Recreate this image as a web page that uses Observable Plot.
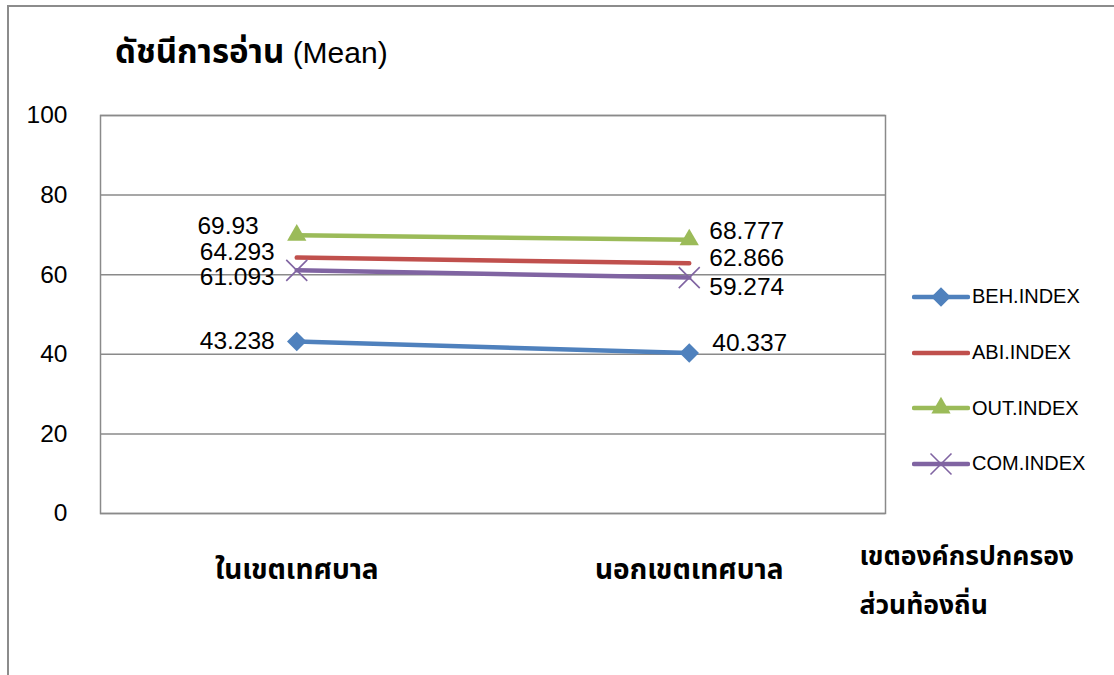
<!DOCTYPE html>
<html>
<head>
<meta charset="utf-8">
<script src="https://cdn.jsdelivr.net/npm/d3@7"></script>
<script src="https://cdn.jsdelivr.net/npm/@observablehq/plot@0.6"></script>
<style>
  body { margin: 0; background: #fff; }
  #wrap { position: relative; width: 1114px; height: 675px; overflow: hidden; background: #fff;
          font-family: "Liberation Sans", Arial, sans-serif; }
  #frame { position: absolute; left: 7px; top: 5px; right: -4px; bottom: -4px;
           border-left: 2px solid #8c8c8c; border-top: 2px solid #8c8c8c; pointer-events: none; }
  #chart { position: absolute; left: 0; top: 0; }
  #title { position: absolute; left: 115px; top: 37px; font-size: 30px; line-height: 1; color: #000; white-space: nowrap; }
  #title .th { font-weight: bold; font-size: 33px; font-family: "Noto Sans Thai", "Loma", "Garuda", "Noto Sans", sans-serif; }
  #legend { position: absolute; left: 912px; top: 269px; }
  .item { display: flex; align-items: center; height: 55.7px; }
  .item svg { display: block; }
  .item span { font-size: 20px; margin-left: 2px; color: #000; }
</style>
</head>
<body>
<div id="wrap">
  <div id="chart"></div>
  <div id="frame"></div>
  <div id="title"><span class="th">ดัชนีการอ่าน</span> (Mean)</div>
  <div id="legend"></div>
</div>
<script>
// ---- data ----
const categories = ["ในเขตเทศบาล", "นอกเขตเทศบาล", "เขตองค์กรปกครอง\nส่วนท้องถิ่น"];
const seriesNames = ["BEH.INDEX", "ABI.INDEX", "OUT.INDEX", "COM.INDEX"];
const behIndex = [43.238, 40.337];
const abiIndex = [64.293, 62.866];
const outIndex = [69.93, 68.777];
const comIndex = [61.093, 59.274];
const yTicks = [0, 20, 40, 60, 80, 100];

// ---- styles ----
const colors = {"BEH.INDEX": "#4F81BD", "ABI.INDEX": "#C0504D", "OUT.INDEX": "#9BBB59", "COM.INDEX": "#8064A2"};
const symbols = {"BEH.INDEX": "diamond2", "ABI.INDEX": null, "OUT.INDEX": "triangle2", "COM.INDEX": "times"};
const symbolR = {"BEH.INDEX": 8.8, "OUT.INDEX": 9.2, "COM.INDEX": 9.6};
// label offsets (px) per series, per category [left point, right point]
const labelOffsets = {
  "BEH.INDEX": [{dx: -22, dy: 0}, {dx: 23, dy: -10}],
  "ABI.INDEX": [{dx: -22, dy: -5}, {dx: 20, dy: -5}],
  "OUT.INDEX": [{dx: -38, dy: -9}, {dx: 20, dy: -9}],
  "COM.INDEX": [{dx: -22, dy: 7}, {dx: 20, dy: 10}]
};

const seriesValues = [behIndex, abiIndex, outIndex, comIndex];
const rows = [];
seriesNames.forEach((s, k) => seriesValues[k].forEach((v, i) => rows.push({series: s, i, category: categories[i], value: v})));

const font = "'Liberation Sans', Arial, sans-serif";
const thaiFont = "'Noto Sans Thai', 'Loma', 'Garuda', 'Noto Sans', sans-serif";
const gray = "#8a8a8a";

const marks = [
  Plot.gridY(yTicks, {stroke: gray, strokeOpacity: 1, strokeWidth: 1.5}),
  Plot.frame({stroke: gray, strokeWidth: 1.5}),
  Plot.axisY(yTicks, {tickSize: 0, tickPadding: 33, fontSize: 24.5, fontFamily: font, fill: "#000", label: null}),
  Plot.line(rows, {x: "i", y: "value", z: "series", stroke: d => colors[d.series], strokeWidth: 4.5, strokeLinecap: "round"})
];
for (const s of seriesNames) {
  if (!symbols[s]) continue;
  const pts = rows.filter(d => d.series === s);
  if (symbols[s] === "times") {
    marks.push(Plot.dot(pts, {x: "i", y: "value", symbol: "times", r: symbolR[s], stroke: colors[s], strokeWidth: 1.6, fill: "none"}));
  } else {
    marks.push(Plot.dot(pts, {x: "i", y: "value", symbol: symbols[s], r: symbolR[s], fill: colors[s], stroke: "none"}));
  }
}
for (const d of rows) {
  const o = labelOffsets[d.series][d.i];
  marks.push(Plot.text([d], {x: "i", y: "value", text: d => String(d.value), dx: o.dx, dy: o.dy,
    textAnchor: d.i === 0 ? "end" : "start", fontSize: 24.5, fontFamily: font, fill: "#000"}));
}
// category labels
marks.push(Plot.text([0, 1], {x: d => d, y: 0, text: d => categories[d], dy: 57, fontSize: 28, fontWeight: "bold",
  fontFamily: thaiFont, fill: "#000"}));
marks.push(Plot.text([2], {x: 1.5, y: 0, text: d => categories[d], dx: -26, dy: 60, textAnchor: "start", lineHeight: 1.85,
  fontSize: 26.5, fontWeight: "bold", fontFamily: thaiFont, fill: "#000"}));

const chart = Plot.plot({
  width: 1114, height: 675,
  marginLeft: 100, marginRight: 229, marginTop: 115, marginBottom: 162,
  x: {type: "linear", domain: [-0.5, 1.5], axis: null},
  y: {domain: [0, 100], axis: null},
  style: {background: "transparent", overflow: "visible"},
  marks
});
document.getElementById("chart").append(chart);

// legend
const legend = d3.select("#legend");
for (const s of seriesNames) {
  const item = legend.append("div").attr("class", "item");
  const svg = item.append("svg").attr("width", 58).attr("height", 28);
  svg.append("line").attr("x1", 2).attr("x2", 56).attr("y1", 14).attr("y2", 14)
    .attr("stroke", colors[s]).attr("stroke-width", 4.5).attr("stroke-linecap", "round");
  if (symbols[s]) {
    const typ = {diamond2: d3.symbolDiamond2, triangle2: d3.symbolTriangle2, times: d3.symbolTimes}[symbols[s]];
    const r = symbolR[s];
    const p = svg.append("path").attr("transform", "translate(29,14)")
      .attr("d", d3.symbol(typ, r * r * Math.PI)());
    if (symbols[s] === "times") p.attr("fill", "none").attr("stroke", colors[s]).attr("stroke-width", 1.6);
    else p.attr("fill", colors[s]);
  }
  item.append("span").text(s);
}
</script>
</body>
</html>
